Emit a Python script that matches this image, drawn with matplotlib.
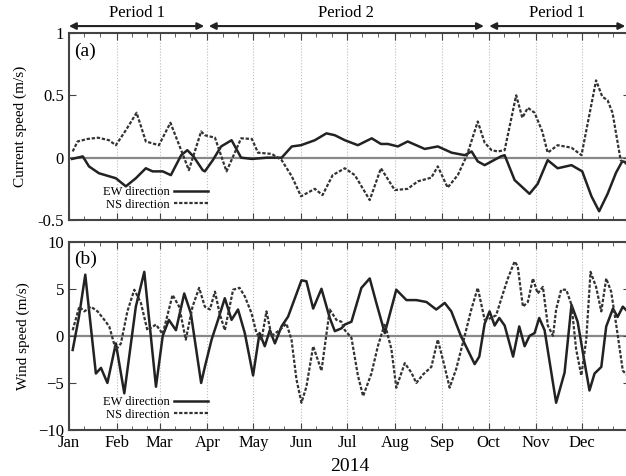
import matplotlib
matplotlib.use('Agg')
from matplotlib import pyplot as plt

plt.rcParams['font.family'] = ['Liberation Serif', 'DejaVu Serif']

months = ['Jan', 'Feb', 'Mar', 'Apr', 'May', 'Jun', 'Jul', 'Aug', 'Sep', 'Oct', 'Nov', 'Dec']
month_start = [0, 31, 59, 90, 120, 151, 181, 212, 243, 273, 304, 334]

# (a) current speed, day of year
cur_ew_day = [2, 9, 13, 19.5, 30.5, 37, 43.5, 50, 54.4, 61, 66.3, 73, 77, 81, 87, 88.4, 93.6, 99,
              105.8, 112, 119, 129, 138.4, 145, 151, 160, 167.5, 173, 179.5, 188, 197, 203, 207.5,
              214, 220.4, 231.5, 240, 249, 257.5, 262, 266, 270.5, 275, 281, 283.5, 290, 299.7,
              305, 311.5, 318, 327, 334, 340, 345, 350.5, 356, 360, 364]
cur_ew = [-0.01, 0.01, -0.07, -0.125, -0.165, -0.23, -0.165, -0.085, -0.11, -0.11, -0.14, 0.02,
          0.06, 0.01, -0.10, -0.11, -0.02, 0.09, 0.14, 0.0, -0.01, 0.0, 0.0, 0.09, 0.10, 0.14,
          0.195, 0.18, 0.14, 0.10, 0.155, 0.11, 0.11, 0.09, 0.13, 0.07, 0.09, 0.04, 0.02, 0.05,
          -0.03, -0.06, -0.03, 0.01, 0.02, -0.18, -0.29, -0.21, -0.02, -0.085, -0.06, -0.11,
          -0.31, -0.43, -0.29, -0.12, -0.03, -0.04]

cur_ns_day = [2.4, 5.6, 12, 19, 26, 30.5, 37, 44, 50, 58.5, 66, 73, 78, 86, 88.4, 95, 102.5, 112,
              119, 123, 132, 138.4, 145, 151, 160, 165, 171.6, 179.5, 186, 195.7, 203, 212, 220.4,
              227, 235.8, 240, 246.4, 253, 259, 266, 270.5, 275, 279, 283.5, 291, 295, 298.6, 303,
              308, 311.5, 318, 327, 333.5, 343, 347, 350.5, 353.7, 359, 364]
cur_ns = [0.05, 0.13, 0.15, 0.16, 0.14, 0.10, 0.22, 0.36, 0.13, 0.10, 0.28, 0.06, -0.10, 0.21,
          0.18, 0.16, -0.11, 0.155, 0.15, 0.04, 0.03, -0.02, -0.15, -0.31, -0.25, -0.30, -0.14,
          -0.085, -0.14, -0.34, -0.085, -0.26, -0.25, -0.19, -0.16, -0.07, -0.24, -0.14, 0.02,
          0.29, 0.12, 0.06, 0.05, 0.06, 0.50, 0.32, 0.40, 0.36, 0.21, 0.04, 0.10, 0.08, 0.02,
          0.62, 0.49, 0.46, 0.36, -0.02, -0.06]

# (b) wind speed, day of year
wind_ew_day = [2.4, 6.5, 10.6, 12.8, 17.5, 20.8, 25, 30.5, 36, 43.5, 49, 56.6, 61, 65, 69.6, 75,
               79.3, 86, 88.4, 92.8, 97, 101.4, 105.8, 110, 114.4, 119.8, 124, 127.4, 130.7, 134,
               138.3, 142.6, 147, 151.3, 154.5, 158.9, 164.3, 169.7, 173, 177.3, 179.5, 183.8,
               190.3, 195.7, 200, 205.5, 213, 219.6, 226, 232.6, 239, 244.5, 248.8, 255, 264, 267,
               270.5, 273.7, 277, 280, 283.5, 289, 293, 296.5, 299.7, 303, 306, 309.5, 317, 322.5,
               327, 331, 335.5, 338.7, 342, 346.4, 349.6, 354, 357, 360.4, 364]
wind_ew = [-1.5, 2.05, 6.5, 3.1, -4.0, -3.4, -5.0, -0.8, -6.1, 3.1, 6.8, -5.4, 0.0, 1.7, 0.6, 4.5,
           2.4, -5.0, -3.3, -0.4, 1.7, 4.0, 1.7, 2.8, 0.3, -4.2, 0.3, -1.1, 0.6, -0.8, 1.0, 2.05,
           4.0, 5.9, 5.8, 2.9, 5.0, 1.9, 0.5, 0.8, 1.2, 1.5, 5.1, 6.1, 3.5, 0.3, 4.9, 3.8, 3.8,
           3.6, 2.8, 3.5, 2.6, 0.0, -3.0, -2.2, 1.3, 2.6, 1.1, 1.9, 1.1, -2.2, 1.0, -1.1, 0.0, 0.3,
           1.9, 0.6, -7.1, -3.9, 3.3, 1.5, -2.8, -5.8, -4.0, -3.3, 1.0, 2.9, 2.0, 3.1, 2.5]

wind_ns_day = [2.4, 6.7, 10, 14.3, 18.6, 23, 26.2, 30.5, 33.8, 38, 42.5, 46.8, 51, 56.6, 61, 67.4,
               71.7, 76, 80.4, 84.7, 88.4, 91.7, 95, 98, 101.4, 106.8, 111, 114.4, 118.8, 122,
               125.3, 128.5, 131.8, 137, 141.5, 144.8, 148, 151.3, 154.5, 158.9, 164.3, 169.7, 174,
               177.3, 179.5, 183.8, 188, 191.4, 196.8, 201, 205.5, 209.8, 213, 218.5, 222.8, 226,
               230.4, 235.8, 240, 244.5, 247.7, 252, 257.5, 261.8, 266, 270.5, 274.8, 278, 282.4,
               285.6, 290, 292, 295.4, 298.6, 301.9, 305, 308.4, 311.6, 315, 317, 320.3, 323.6,
               327, 330, 333.4, 336.6, 339.4, 343, 346.4, 349.6, 352.8, 356, 360.4, 364]
wind_ns = [0.6, 3.1, 2.6, 3.1, 2.6, 1.7, 1.0, -1.5, -0.8, 2.6, 4.9, 3.5, 0.6, 1.2, 0.2, 4.35, 3.1,
           -0.4, 3.1, 5.1, 3.1, 2.8, 4.7, 2.4, 0.6, 4.9, 5.1, 4.2, 2.4, 0.3, -0.4, 2.6, 0.0, 0.6,
           1.3, -0.4, -4.6, -7.1, -5.4, -1.1, -3.7, 2.8, 1.7, 1.5, 0.6, -0.2, -4.2, -6.4, -4.0,
           -1.1, 1.3, -1.4, -5.5, -2.9, -3.9, -5.0, -4.1, -3.3, -0.4, -3.3, -5.5, -3.5, 0.0, 2.8,
           5.1, 1.7, 1.9, 2.2, 4.5, 6.1, 7.9, 7.4, 3.1, 3.6, 6.1, 4.5, 5.2, 1.1, 0.0, 2.8, 4.9,
           4.9, 3.3, -1.4, -4.2, -0.4, 6.8, 5.2, 2.6, 6.1, 4.7, 1.3, -3.7, -4.3]

periods = [('Period 1', 0, 88), ('Period 2', 91, 270), ('Period 1', 273.5, 362)]

fig = plt.figure(figsize=(6.26, 4.76), dpi=100)
ax1 = fig.add_axes([0.1102, 0.5378, 0.896, 0.3929])
ax2 = fig.add_axes([0.1102, 0.0966, 0.896, 0.3956])

ns_style = (0, (1.5, 0.8))
for ax in (ax1, ax2):
    for m in month_start[1:]:
        ax.axvline(m, color='#bbbbbb', lw=0.8, ls=':', zorder=0)
    ax.axhline(0, color='#888888', lw=1.6, zorder=1)
    ax.set_xlim(0, 365)
    ax.set_xticks(month_start)
    ax.set_xticks([m + d for m in month_start for d in (10, 20)], minor=True)
    ax.tick_params(which='both', direction='in', top=True, right=True, labelsize=12, color='#444444')
    ax.tick_params(which='major', length=5)
    ax.tick_params(which='minor', length=3)
    for s in ax.spines.values():
        s.set_linewidth(1.5)
        s.set_color('#444444')

ax1.plot(cur_ew_day, cur_ew, color='#222222', lw=1.8, label='EW direction')
ax1.plot(cur_ns_day, cur_ns, color='#333333', lw=1.6, ls=ns_style, label='NS direction')
ax1.set_ylim(-0.5, 1)
ax1.set_yticks([-0.5, 0, 0.5, 1])
ax1.set_yticklabels(['-0.5', '0', '0.5', '1'])
ax1.set_xticklabels([])
ax1.set_ylabel('Current speed (m/s)', fontsize=11, labelpad=8)
ax1.text(0.01, 0.95, '(a)', transform=ax1.transAxes, fontsize=14, va='top')

ax2.plot(wind_ew_day, wind_ew, color='#222222', lw=1.8, label='EW direction')
ax2.plot(wind_ns_day, wind_ns, color='#333333', lw=1.6, ls=ns_style, label='NS direction')
ax2.set_ylim(-10, 10)
ax2.set_yticks([-10, -5, 0, 5, 10])
ax2.set_xticklabels(months)
ax2.set_xlabel('2014', fontsize=14, labelpad=5)
ax2.set_ylabel('Wind speed (m/s)', fontsize=11, labelpad=6)
ax2.text(0.01, 0.95, '(b)', transform=ax2.transAxes, fontsize=14, va='top')

for ax in (ax1, ax2):
    ax.legend(loc='lower left', bbox_to_anchor=(0.04, -0.01), frameon=False, markerfirst=False,
              fontsize=9, handlelength=2.7, labelspacing=0.05, handletextpad=0.4)

tr = ax1.get_xaxis_transform()
for name, x0, x1 in periods:
    ax1.annotate('', xy=(x1, 1.037), xytext=(x0, 1.037), xycoords=tr, textcoords=tr,
                 arrowprops=dict(arrowstyle='<|-|>', color='#222222', lw=1.5,
                                 mutation_scale=10, shrinkA=0, shrinkB=0),
                 annotation_clip=False)
    ax1.text((x0 + x1) / 2, 1.065, name, transform=tr, ha='center', va='bottom', fontsize=12)

fig.savefig('out.png', dpi=100)
